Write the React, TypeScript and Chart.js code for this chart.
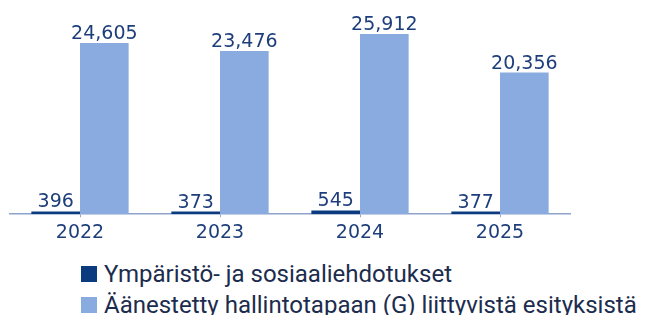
import React, { useEffect, useRef } from "react";
import { Chart, registerables } from "chart.js";

Chart.register(...registerables);

const categories = ["2022", "2023", "2024", "2025"];
const seriesNames = [
  "Ympäristö- ja sosiaaliehdotukset",
  "Äänestetty hallintotapaan (G) liittyvistä esityksistä",
];
const envSocial = [396, 373, 545, 377];
const governance = [24605, 23476, 25912, 20356];
const seriesColors = ["#0b3a7e", "#8aabdf"];

const labelColor = "#1d3e7a";
const legendColor = "#1c2c4e";

const valueLabels = {
  id: "valueLabels",
  afterDatasetsDraw(chart: any) {
    const ctx = chart.ctx;
    ctx.save();
    ctx.font = "19px 'DejaVu Sans'";
    ctx.fillStyle = labelColor;
    ctx.textAlign = "center";
    ctx.textBaseline = "alphabetic";
    chart.data.datasets.forEach((ds: any, di: number) => {
      const meta = chart.getDatasetMeta(di);
      meta.data.forEach((el: any, i: number) => {
        const v = ds.data[i] as number;
        ctx.fillText(v.toLocaleString("en-US"), el.x, el.y - 4);
      });
    });
    ctx.restore();
  },
};

export default function App() {
  const ref = useRef<HTMLCanvasElement>(null);
  useEffect(() => {
    if (!ref.current) return;
    const chart = new Chart(ref.current, {
      type: "bar",
      data: {
        labels: categories,
        datasets: [
          {
            label: seriesNames[0],
            data: envSocial,
            backgroundColor: seriesColors[0],
            categoryPercentage: 0.695,
            barPercentage: 1,
          },
          {
            label: seriesNames[1],
            data: governance,
            backgroundColor: seriesColors[1],
            categoryPercentage: 0.695,
            barPercentage: 1,
          },
        ],
      },
      options: {
        animation: false,
        responsive: false,
        maintainAspectRatio: false,
        layout: { padding: { left: 10, right: 75, top: 5.5, bottom: 3 } },
        plugins: { legend: { display: false }, tooltip: { enabled: false } },
        scales: {
          x: {
            offset: true,
            grid: {
              offset: false,
              drawOnChartArea: false,
              drawTicks: true,
              tickLength: 3,
              color: "#8ea3cc",
            },
            border: { display: true, color: "#8ea3cc", width: 1.5 },
            ticks: {
              color: labelColor,
              font: { family: "'DejaVu Sans'", size: 19 },
              padding: 4,
            },
          },
          y: {
            display: false,
            min: 0,
            max: 30000,
          },
        },
      },
      plugins: [valueLabels],
    });
    return () => chart.destroy();
  }, []);

  return (
    <div
      style={{
        position: "fixed",
        left: 0,
        top: 0,
        width: 645,
        height: 315,
        background: "#fff",
        overflow: "hidden",
      }}
    >
      <canvas ref={ref} width={645} height={251} style={{ display: "block" }} />
      {seriesNames.map((name, i) => (
        <div
          key={name}
          style={{
            position: "absolute",
            left: 81,
            top: 258.5 + i * 31,
            height: 31,
            display: "flex",
            alignItems: "center",
            whiteSpace: "nowrap",
            fontFamily: "Roboto",
            fontSize: 24,
            lineHeight: "31px",
            color: legendColor,
          }}
        >
          <span
            style={{
              display: "inline-block",
              width: 16,
              height: 16,
              background: seriesColors[i],
              marginRight: 7,
              flexShrink: 0,
            }}
          />
          <span>{name}</span>
        </div>
      ))}
    </div>
  );
}
